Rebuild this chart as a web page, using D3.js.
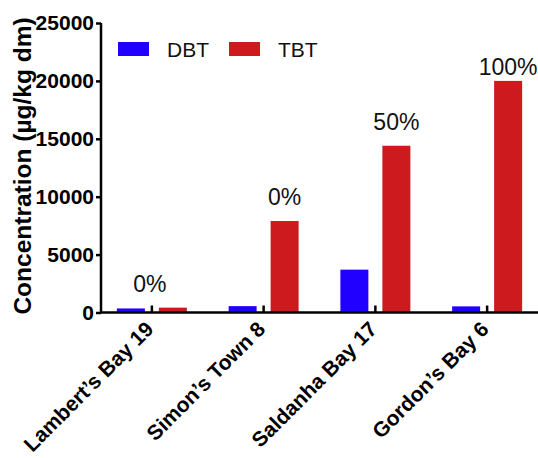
<!DOCTYPE html>
<html>
<head>
<meta charset="utf-8">
<script src="https://cdn.jsdelivr.net/npm/d3@7"></script>
<style>
  body { margin: 0; background: #fff; }
  svg { display: block; font-family: "Liberation Sans", Arial, sans-serif; }
</style>
</head>
<body>
<script>
// sites and the two compounds
var categories = ["Lambert’s Bay 19", "Simon’s Town 8", "Saldanha Bay 17", "Gordon’s Bay 6"];
var series = ["DBT", "TBT"];
var dbt = [350, 550, 3700, 530];
var tbt = [420, 7900, 14400, 20000];
var pctLabels = ["0%", "0%", "50%", "100%"];
var yTicks = [0, 5000, 10000, 15000, 20000, 25000];

const width = 538, height = 458;
const color = d3.scaleOrdinal(series, ["#2200ff", "#cc1a1e"]);

const svg = d3.select("body")
  .append("svg")
  .attr("width", width)
  .attr("height", height);

const y = d3.scaleLinear().domain([0, 25000]).range([312.5, 23]);
const x = d3.scaleBand().domain(categories).range([96, 543]).padding(0);
const xSub = d3.scaleBand().domain(series).range([-35, 35]).paddingInner(1 / 3);
const cx = function(c) { return x(c) + x.bandwidth() / 2; };

// bars
var rows = categories.map(function(c, i) {
  return { cat: c, values: [{ key: "DBT", v: dbt[i] }, { key: "TBT", v: tbt[i] }] };
});

const groups = svg.selectAll("g.site")
  .data(rows)
  .enter()
  .append("g")
  .attr("class", "site")
  .attr("transform", function(d) { return "translate(" + cx(d.cat) + ",0)"; });

groups.selectAll("rect")
  .data(function(d) { return d.values; })
  .enter()
  .append("rect")
  .attr("x", function(d) { return xSub(d.key); })
  .attr("width", xSub.bandwidth())
  .attr("y", function(d) { return y(d.v); })
  .attr("height", function(d) { return y(0) - y(d.v); })
  .attr("fill", function(d) { return color(d.key); });

// percent labels over the TBT bars (first one sits over the site)
groups.append("text")
  .attr("x", function(d, i) { return i === 0 ? -2 : xSub("TBT") + xSub.bandwidth() / 2; })
  .attr("y", function(d) { return Math.max(y(d.values[1].v) - 16, 75); })
  .attr("text-anchor", "middle")
  .attr("font-size", 23)
  .attr("fill", "#111")
  .text(function(d, i) { return pctLabels[i]; });

// y axis
const yAxis = svg.append("g")
  .attr("transform", "translate(101,0)")
  .call(d3.axisLeft(y).tickValues(yTicks).tickSize(5).tickPadding(2).tickFormat(d3.format("d")));
yAxis.select(".domain").attr("stroke-width", 2.5).attr("d", "M0," + y(25000) + "V" + y(0));
yAxis.selectAll(".tick line").attr("stroke-width", 2.5);
yAxis.selectAll(".tick text")
  .attr("font-size", 21)
  .attr("font-weight", "bold")
  .attr("font-family", "Liberation Sans, Arial, sans-serif")
  .attr("fill", "#000");

// x axis
const xAxis = svg.append("g")
  .attr("transform", "translate(0," + y(0) + ")")
  .call(d3.axisBottom(x).tickSizeInner(-7).tickSizeOuter(0));
xAxis.select(".domain").attr("stroke-width", 2.5).attr("d", "M100,0H538");
xAxis.selectAll(".tick line").attr("stroke-width", 2.5);
xAxis.selectAll(".tick text")
  .attr("y", 0)
  .attr("dy", 0)
  .attr("transform", "translate(3,18) rotate(-45)")
  .attr("text-anchor", "end")
  .attr("font-size", 21)
  .attr("font-weight", "bold")
  .attr("font-family", "Liberation Sans, Arial, sans-serif")
  .attr("fill", "#000");

// y title
svg.append("text")
  .attr("transform", "translate(31,166) rotate(-90)")
  .attr("text-anchor", "middle")
  .attr("font-size", 24.5)
  .attr("font-weight", "bold")
  .text("Concentration (µg/kg dm)");

// legend
const legend = svg.selectAll("g.legend")
  .data(series)
  .enter()
  .append("g")
  .attr("class", "legend")
  .attr("transform", function(d, i) { return "translate(" + (118 + i * 111) + ",42)"; });
legend.append("rect")
  .attr("width", 31)
  .attr("height", 14)
  .attr("fill", function(d) { return color(d); });
legend.append("text")
  .attr("x", 49)
  .attr("y", 15)
  .attr("font-size", 21)
  .attr("fill", "#111")
  .text(function(d) { return d; });
</script>
</body>
</html>
